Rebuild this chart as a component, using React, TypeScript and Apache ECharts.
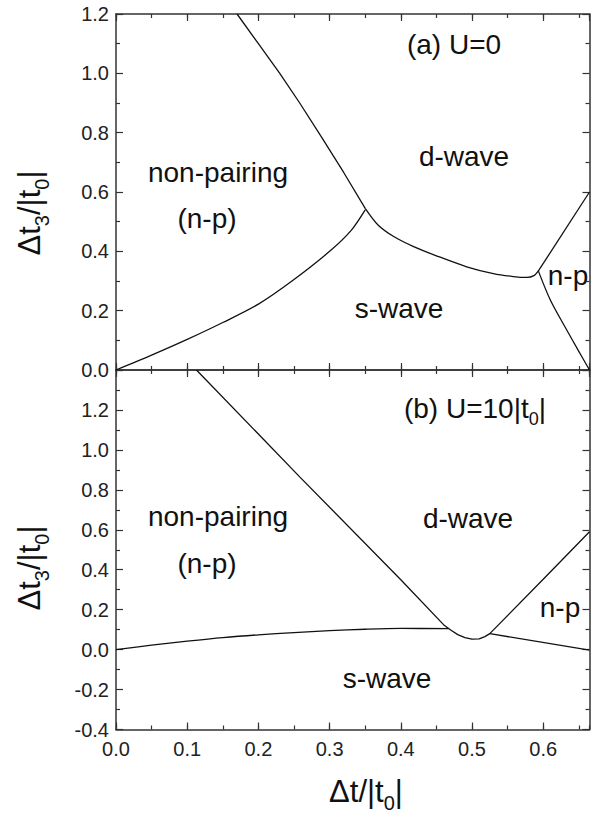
import React, { useEffect, useRef } from "react";
import * as echarts from "echarts";

// ---- axis ranges / ticks ----
const X_MIN = 0;
const X_MAX = 0.665;
const X_MAJOR = 0.1;
const X_MINOR = 0.05;
const Y_TOP_MIN = 0;
const Y_TOP_MAX = 1.2;
const Y_BOT_MIN = -0.4;
const Y_BOT_MAX = 1.4;
const Y_MAJOR = 0.2;

// ---- panel (a) U=0 : phase boundaries [Δt, Δt3] ----
const aNonPairingDwave = [
  [0.17, 1.2], [0.2, 1.1], [0.23, 1.0], [0.258, 0.9], [0.29, 0.78], [0.32, 0.665], [0.35, 0.545],
];
const aNonPairingSwave = [
  [0, 0], [0.05, 0.05], [0.1, 0.103], [0.15, 0.16], [0.2, 0.222], [0.25, 0.305], [0.3, 0.4], [0.33, 0.47], [0.35, 0.54],
];
const aDwaveSwave = [
  [0.35, 0.545], [0.368, 0.489], [0.39, 0.45], [0.418, 0.416], [0.45, 0.385], [0.4925, 0.348],
  [0.53, 0.325], [0.558, 0.315], [0.577, 0.312], [0.587, 0.318], [0.593, 0.333],
];
const aDwaveNp = [[0.593, 0.333], [0.665, 0.6]];
const aSwaveNp = [
  [0.593, 0.335], [0.61, 0.236], [0.633, 0.135], [0.649, 0.067], [0.665, 0],
];

// ---- panel (b) U=10|t0| ----
const bDwaveBoundary = [
  [0.113, 1.4], [0.258, 0.865], [0.4, 0.35], [0.46, 0.125], [0.47, 0.098], [0.48, 0.075],
  [0.49, 0.06], [0.5, 0.052], [0.51, 0.054], [0.518, 0.065], [0.525, 0.08], [0.6, 0.352], [0.665, 0.59],
];
const bSwaveLeft = [
  [0, 0], [0.05, 0.022], [0.1, 0.042], [0.15, 0.06], [0.2, 0.074], [0.25, 0.085],
  [0.3, 0.095], [0.35, 0.102], [0.4, 0.106], [0.467, 0.105],
];
const bSwaveRight = [[0.525, 0.08], [0.665, -0.003]];

const FONT = "'Liberation Sans', Arial, Helvetica, sans-serif";
const AX = "#333";
const INK = "#111";

function xAxis(grid: number, pos: "top" | "bottom", minor: boolean, labels: boolean) {
  return {
    type: "value",
    gridIndex: grid,
    position: pos,
    min: X_MIN,
    max: X_MAX,
    interval: minor ? X_MINOR : X_MAJOR,
    axisLine: { show: !minor, onZero: false, lineStyle: { color: AX, width: 1.5 } },
    axisTick: { show: true, inside: true, length: minor ? 4 : 7, lineStyle: { color: AX, width: 1.2 } },
    axisLabel: {
      show: labels,
      showMaxLabel: false,
      margin: 9,
      fontFamily: FONT,
      fontSize: 20,
      color: "#222",
      formatter: (v: number) => v.toFixed(1),
    },
    splitLine: { show: false },
    minorTick: { show: false },
  };
}

function yAxis(grid: number, pos: "left" | "right", min: number, max: number, labels: boolean, showMax: boolean) {
  return {
    type: "value",
    gridIndex: grid,
    position: pos,
    min,
    max,
    interval: Y_MAJOR,
    axisLine: { show: true, onZero: false, lineStyle: { color: AX, width: 1.5 } },
    axisTick: { show: true, inside: true, length: 7, lineStyle: { color: AX, width: 1.2 } },
    minorTick: { show: true, splitNumber: 2, length: 4, lineStyle: { color: AX, width: 1.2 } },
    axisLabel: {
      show: labels,
      showMaxLabel: showMax,
      margin: 7,
      fontFamily: FONT,
      fontSize: 20,
      color: "#222",
      formatter: (v: number) => v.toFixed(1),
    },
    splitLine: { show: false },
  };
}

function line(data: number[][], xi: number, yi: number, smooth: number | boolean) {
  return {
    type: "line",
    data,
    xAxisIndex: xi,
    yAxisIndex: yi,
    showSymbol: false,
    symbol: "none",
    smooth,
    lineStyle: { color: INK, width: 1.3 },
    silent: true,
  };
}

const big = { fontFamily: FONT, fontSize: 28, fill: INK, align: "center", verticalAlign: "middle" };

function label(text: string, x: number, y: number) {
  return { type: "text", x, y, style: { ...big, text } };
}

const titleRich = {
  m: { fontFamily: FONT, fontSize: 31, lineHeight: 44, fill: INK, color: INK, verticalAlign: "middle" },
  s: { fontFamily: FONT, fontSize: 20, lineHeight: 20, fill: INK, color: INK, verticalAlign: "bottom" },
};
const smallRich = {
  m: { fontFamily: FONT, fontSize: 28, lineHeight: 40, fill: INK, color: INK, verticalAlign: "middle" },
  s: { fontFamily: FONT, fontSize: 18, lineHeight: 18, fill: INK, color: INK, verticalAlign: "bottom" },
};

export default function App() {
  const ref = useRef<HTMLDivElement>(null);
  useEffect(() => {
    document.body.style.margin = "0";
    const chart = echarts.init(ref.current!, null, { renderer: "svg" });
    const option = {
      animation: false,
      backgroundColor: "#fff",
      grid: [
        { left: 116, top: 14, width: 473.5, height: 356 },
        { left: 116, top: 370, width: 473.5, height: 359.5 },
      ],
      xAxis: [
        xAxis(0, "bottom", false, false),
        xAxis(0, "bottom", true, false),
        xAxis(0, "top", false, false),
        xAxis(0, "top", true, false),
        xAxis(1, "bottom", false, true),
        xAxis(1, "bottom", true, false),
        xAxis(1, "top", false, false),
        xAxis(1, "top", true, false),
      ],
      yAxis: [
        yAxis(0, "left", Y_TOP_MIN, Y_TOP_MAX, true, true),
        yAxis(0, "right", Y_TOP_MIN, Y_TOP_MAX, false, false),
        yAxis(1, "left", Y_BOT_MIN, Y_BOT_MAX, true, false),
        yAxis(1, "right", Y_BOT_MIN, Y_BOT_MAX, false, false),
      ],
      series: [
        line(aNonPairingDwave, 0, 0, false),
        line(aNonPairingSwave, 0, 0, 0.3),
        line(aDwaveSwave, 0, 0, 0.3),
        line(aDwaveNp, 0, 0, false),
        line(aSwaveNp, 0, 0, 0.3),
        line(bDwaveBoundary, 4, 2, false),
        line(bSwaveLeft, 4, 2, 0.3),
        line(bSwaveRight, 4, 2, false),
      ],
      graphic: [
        label("(a) U=0", 454, 44),
        label("d-wave", 464, 156),
        label("non-pairing", 218, 172),
        label("(n-p)", 207, 218),
        label("s-wave", 399, 308),
        label("n-p", 568, 275),
        {
          type: "text",
          x: 475,
          y: 408,
          style: { text: "{m|(b) U=10|t}{s|0}{m||}", rich: smallRich, align: "center", verticalAlign: "middle" },
        },
        label("d-wave", 468, 518),
        label("non-pairing", 218, 516),
        label("(n-p)", 207, 563),
        label("n-p", 560, 607),
        label("s-wave", 387, 678),
        {
          type: "text",
          x: 29.5,
          y: 213,
          rotation: Math.PI / 2,
          style: { text: "{m|Δt}{s|3}{m|/|t}{s|0}{m||}", rich: titleRich, align: "center", verticalAlign: "middle" },
        },
        {
          type: "text",
          x: 29.5,
          y: 568,
          rotation: Math.PI / 2,
          style: { text: "{m|Δt}{s|3}{m|/|t}{s|0}{m||}", rich: titleRich, align: "center", verticalAlign: "middle" },
        },
        {
          type: "text",
          x: 366,
          y: 791,
          style: { text: "{m|Δt/|t}{s|0}{m||}", rich: titleRich, align: "center", verticalAlign: "middle" },
        },
      ],
    };
    chart.setOption(option as any);
    return () => chart.dispose();
  }, []);
  return <div ref={ref} style={{ width: 609, height: 817 }} />;
}
